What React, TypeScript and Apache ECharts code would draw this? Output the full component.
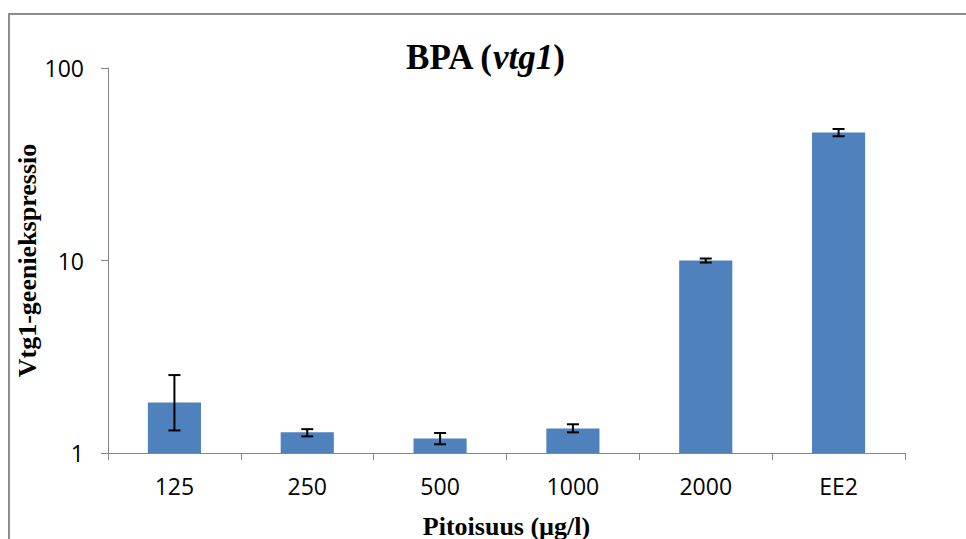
import React, { useEffect, useRef } from "react";
import * as echarts from "echarts";

const categories = ["125", "250", "500", "1000", "2000", "EE2"];
const values = [1.83, 1.28, 1.19, 1.34, 10.0, 46.2];
const errUpper = [2.54, 1.33, 1.27, 1.41, 10.24, 48.2];
const errLower = [1.31, 1.22, 1.11, 1.28, 9.76, 44.2];
const yTicks = [1, 10, 100];

export default function App() {
  const ref = useRef<HTMLDivElement>(null);
  useEffect(() => {
    if (!ref.current) return;
    const chart = echarts.init(ref.current, undefined, { renderer: "svg" });
    const errData = categories.map((_, i) => [i, errUpper[i], errLower[i]]);
    chart.setOption({
      animation: false,
      backgroundColor: "#ffffff",
      graphic: [
        {
          type: "rect",
          shape: { x: 9, y: 14, width: 1000, height: 600 },
          style: { fill: "none", stroke: "#8C8C8C", lineWidth: 2 },
          silent: true,
        },
        {
          type: "text",
          x: 485,
          y: 57,
          style: {
            text: "{b|BPA (}{i|vtg1}{b|)}",
            align: "center",
            verticalAlign: "middle",
            rich: {
              b: { fontFamily: "Liberation Serif", fontWeight: "bold", fontSize: 35, fill: "#000" },
              i: { fontFamily: "Liberation Serif", fontWeight: "bold", fontStyle: "italic", fontSize: 35, fill: "#000" },
            },
          },
        },
      ],
      grid: { left: 108, right: 61, top: 68, bottom: 86, containLabel: false, outerBoundsMode: "none" },
      xAxis: {
        type: "category",
        data: categories,
        boundaryGap: true,
        name: "Pitoisuus (µg/l)",
        nameLocation: "middle",
        nameGap: 60,
        nameMoveOverlap: false,
        nameTextStyle: { fontFamily: "Liberation Serif", fontWeight: "bold", fontSize: 26, color: "#000" },
        axisLine: { lineStyle: { color: "#868686", width: 1 } },
        axisTick: { show: true, alignWithLabel: false, length: 7, lineStyle: { color: "#868686" } },
        axisLabel: { fontFamily: "Open Sans", fontSize: 23, color: "#000", margin: 21 },
        splitLine: { show: false },
      },
      yAxis: {
        type: "log",
        logBase: 10,
        min: yTicks[0],
        max: yTicks[yTicks.length - 1],
        name: "Vtg1-geeniekspressio",
        nameLocation: "middle",
        nameGap: 68,
        nameMoveOverlap: false,
        nameTextStyle: { fontFamily: "Liberation Serif", fontWeight: "bold", fontSize: 26, color: "#000" },
        axisLine: { show: true, lineStyle: { color: "#868686", width: 1 } },
        axisTick: { show: true, length: 7, lineStyle: { color: "#868686" } },
        axisLabel: { fontFamily: "Open Sans", fontSize: 23, color: "#000", margin: 24, formatter: (v: number) => String(Math.round(v)) },
        splitLine: { show: false },
        minorTick: { show: false },
      },
      series: [
        {
          type: "bar",
          data: values,
          barWidth: "40%",
          itemStyle: { color: "#4F81BD" },
        },
        {
          type: "custom",
          data: errData,
          encode: { x: 0, y: [1, 2] },
          z: 10,
          renderItem: (params: any, api: any) => {
            const x = api.value(0);
            const hi = api.coord([x, api.value(1)]);
            const lo = api.coord([x, api.value(2)]);
            const hw = 6;
            const st = { stroke: "#000", lineWidth: 2 };
            return {
              type: "group",
              children: [
                { type: "line", shape: { x1: hi[0], y1: hi[1], x2: lo[0], y2: lo[1] }, style: st },
                { type: "line", shape: { x1: hi[0] - hw, y1: hi[1], x2: hi[0] + hw, y2: hi[1] }, style: st },
                { type: "line", shape: { x1: lo[0] - hw, y1: lo[1], x2: lo[0] + hw, y2: lo[1] }, style: st },
              ],
            };
          },
        },
      ],
    });
    return () => chart.dispose();
  }, []);
  return (
    <div
      ref={ref}
      style={{ position: "fixed", left: 0, top: 0, width: 966, height: 539 }}
    />
  );
}
